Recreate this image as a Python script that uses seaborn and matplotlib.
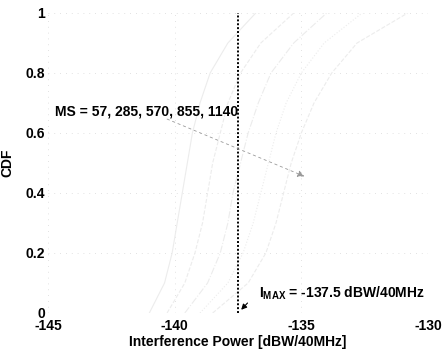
import matplotlib
matplotlib.use("Agg")
import matplotlib.pyplot as plt
import seaborn as sns
import pandas as pd

# ---- data (read/estimated from the reference) ----
ms_values = [57, 285, 570, 855, 1140]
cdf_levels = [0.0, 0.1, 0.2, 0.3, 0.4, 0.5, 0.6, 0.7, 0.8, 0.9, 1.0]
power_ms57 = [-141.0, -140.4, -140.1, -139.9, -139.7, -139.5, -139.3, -139.0, -138.6, -137.9, -136.8]
power_ms285 = [-140.3, -139.6, -139.2, -138.9, -138.7, -138.5, -138.2, -137.9, -137.4, -136.6, -135.3]
power_ms570 = [-139.6, -138.7, -138.2, -137.9, -137.7, -137.4, -137.1, -136.7, -136.2, -135.3, -134.0]
power_ms855 = [-139.0, -137.9, -137.3, -136.9, -136.6, -136.3, -136.0, -135.6, -135.0, -134.1, -132.6]
power_ms1140 = [-138.5, -137.1, -136.4, -136.0, -135.7, -135.4, -135.0, -134.5, -133.8, -132.8, -130.8]
i_max = -137.5
x_ticks = [-145, -140, -135, -130]
y_ticks = [0, 0.2, 0.4, 0.6, 0.8, 1]
y_tick_labels = ["0", "0.2", "0.4", "0.6", "0.8", "1"]

series = [power_ms57, power_ms285, power_ms570, power_ms855, power_ms1140]
rows = []
for ms, xs in zip(ms_values, series):
    for x, y in zip(xs, cdf_levels):
        rows.append({"MS": ms, "power": x, "cdf": y})
df = pd.DataFrame(rows)

sns.set_theme(style="white")
plt.rcParams["font.family"] = ["Liberation Sans", "DejaVu Sans"]
plt.rcParams["font.weight"] = "bold"
plt.rcParams["mathtext.fontset"] = "custom"
plt.rcParams["mathtext.rm"] = "Liberation Sans:bold"
plt.rcParams["mathtext.bf"] = "Liberation Sans:bold"
plt.rcParams["mathtext.it"] = "Liberation Sans:bold"

FS = 10

fig = plt.figure(figsize=(4.44, 3.55), dpi=100)
ax = fig.add_axes([48 / 444, 42 / 355, 380 / 444, 300 / 355])

styles = ["-", "--", "-.", ":", "--"]
for (ms, sub), ls in zip(df.groupby("MS", sort=False), styles):
    sns.lineplot(data=sub, x="power", y="cdf", ax=ax, color="#ececec",
                 linestyle=ls, linewidth=0.8, legend=False, sort=False,
                 estimator=None)

ax.axvline(i_max, ymin=0, ymax=1, color="black", linestyle=(0, (1, 1)),
           linewidth=1.4)

ax.set_xlim(-145, -130)
ax.set_ylim(0, 1)
ax.set_xticks(x_ticks)
ax.set_xticklabels([str(t) for t in x_ticks])
ax.set_yticks(y_ticks)
ax.set_yticklabels(y_tick_labels)
ax.tick_params(axis="both", length=0, labelsize=FS, colors="black")
ax.tick_params(axis="y", pad=2)
ax.tick_params(axis="x", pad=4.5)
for lab in ax.get_xticklabels() + ax.get_yticklabels():
    lab.set_fontweight("bold")

ax.grid(True, color="#d8d8d8", linestyle=(0, (1, 6)), linewidth=0.6)
for sp in ax.spines.values():
    sp.set_visible(False)

ax.set_xlabel("Interference Power [dBW/40MHz]", fontsize=FS,
              fontweight="bold", labelpad=1, color="black")
ax.set_ylabel("CDF", fontsize=FS, fontweight="bold", labelpad=8,
              color="black")

ax.text(-144.72, 0.67, "MS = 57, 285, 570, 855, 1140", fontsize=FS,
        fontweight="bold", va="center", ha="left", color="black")
ax.annotate("", xy=(-134.78, 0.452), xytext=(-140.4, 0.65),
            arrowprops=dict(arrowstyle="-|>", color="#9a9a9a", lw=0.6,
                            linestyle=(0, (3, 4)), mutation_scale=10))

ax.text(-136.67, 0.067, r"$\mathbf{I}_{\mathbf{MAX}}$ = -137.5 dBW/40MHz",
        fontsize=FS, fontweight="bold", va="center", ha="left",
        color="black")
ax.annotate("", xy=(-137.45, 0.004), xytext=(-137.05, 0.04),
            arrowprops=dict(arrowstyle="-|>", color="black", lw=0.8,
                            mutation_scale=8))

fig.savefig("out.png", dpi=100)
